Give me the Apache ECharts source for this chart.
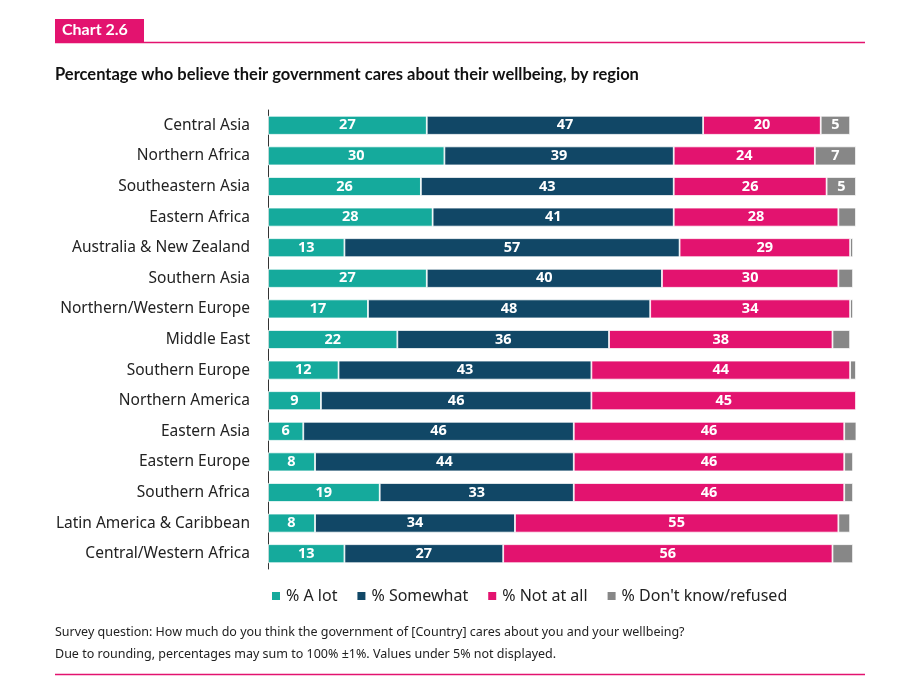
<!DOCTYPE html>
<html><head><meta charset="utf-8">
<script src="https://cdn.jsdelivr.net/npm/echarts@6/dist/echarts.min.js"></script>
<style>html,body{margin:0;padding:0;background:#fff}#c{width:907px;height:682px}</style>
</head><body><div id="c"></div>
<script>
const regions=["Central Asia","Northern Africa","Southeastern Asia","Eastern Africa","Australia & New Zealand","Southern Asia","Northern/Western Europe","Middle East","Southern Europe","Northern America","Eastern Asia","Eastern Europe","Southern Africa","Latin America & Caribbean","Central/Western Africa"];
const aLot=[27,30,26,28,13,27,17,22,12,9,6,8,19,8,13];
const somewhat=[47,39,43,41,57,40,48,36,43,46,46,44,33,34,27];
const notAtAll=[20,24,26,28,29,30,34,38,44,45,46,46,46,55,56];
const dontKnow=[5,7,5,3,0.5,2.5,0.5,3,1,0.4,3,1.5,1.5,2,3.5];
const names=["% A lot","% Somewhat","% Not at all","% Don't know/refused"];
const colors=["#15aa9c","#114766","#e3136f","#878787"];
const F="Noto Sans";
const mk=(i,d)=>({name:names[i],type:"bar",stack:"s",barWidth:19,data:d,
 itemStyle:{color:colors[i],borderColor:"#fff",borderWidth:0.8},
 label:{show:true,position:"inside",color:"#fff",fontFamily:F,fontWeight:"bold",fontSize:14.5,
  formatter:p=>p.value>=5?Math.round(p.value):""}});
const ch=echarts.init(document.getElementById("c"));
ch.setOption({
 animation:false,
 grid:{left:268,right:51,top:110,bottom:113},
 xAxis:{type:"value",min:0,max:100,show:false},
 yAxis:{type:"category",data:regions,inverse:true,axisTick:{show:false},
  axisLine:{lineStyle:{color:"#333"}},
  axisLabel:{color:"#222",fontFamily:F,fontSize:15.5,margin:18}},
 legend:{top:583,left:265,itemWidth:10,itemHeight:10,itemGap:18,icon:"rect",
  textStyle:{fontFamily:F,fontSize:16,color:"#222"}},
 series:[mk(0,aLot),mk(1,somewhat),mk(2,notAtAll),mk(3,dontKnow)],
 graphic:[
  {type:"rect",shape:{x:55,y:19,width:89,height:24},style:{fill:"#e3136f"}},
  {type:"text",x:62,y:22,style:{text:"Chart 2.6",fill:"#fff",font:"bold 16px Lato"}},
  {type:"line",shape:{x1:55,y1:42.5,x2:865,y2:42.5},style:{stroke:"#e3136f",lineWidth:1.5}},
  {type:"text",x:55,y:66,style:{text:"Percentage who believe their government cares about their wellbeing, by region",fill:"#111",font:"bold 16.5px Lato"}},
  {type:"text",x:55,y:626,style:{text:"Survey question: How much do you think the government of [Country] cares about you and your wellbeing?",fill:"#222",font:"12.5px 'Noto Sans'"}},
  {type:"text",x:55,y:648,style:{text:"Due to rounding, percentages may sum to 100% ±1%. Values under 5% not displayed.",fill:"#222",font:"12.5px 'Noto Sans'"}},
  {type:"line",shape:{x1:55,y1:674.5,x2:865,y2:674.5},style:{stroke:"#e3136f",lineWidth:1.5}}
 ]
});
</script></body></html>
